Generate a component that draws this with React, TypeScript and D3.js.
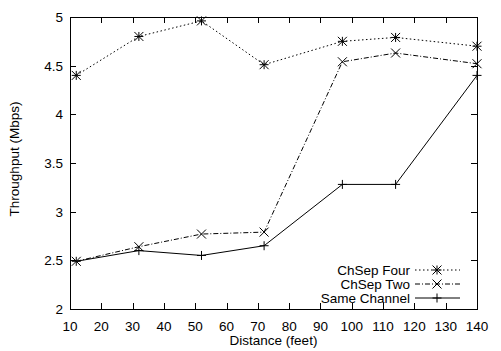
import React, {useEffect, useRef} from 'react';
import * as d3 from 'd3';

const distances = [12, 32, 52, 72, 97, 114, 140];
const chSepFour = [4.4, 4.8, 4.96, 4.51, 4.75, 4.79, 4.7];
const chSepTwo = [2.49, 2.64, 2.77, 2.79, 4.54, 4.63, 4.52];
const sameChannel = [2.49, 2.6, 2.55, 2.65, 3.28, 3.28, 4.4];
const xTicks = [10, 20, 30, 40, 50, 60, 70, 80, 90, 100, 110, 120, 130, 140];
const yTicks = [2, 2.5, 3, 3.5, 4, 4.5, 5];

const seriesList = [
  {name: 'ChSep Four', values: chSepFour, dash: '1.5,2.5', marker: 'star'},
  {name: 'ChSep Two', values: chSepTwo, dash: '5,2,1,2', marker: 'cross'},
  {name: 'Same Channel', values: sameChannel, dash: null, marker: 'plus'},
];

const App = () => {
  const ref = useRef<SVGSVGElement>(null);

  useEffect(() => {
    const width = 501, height = 351;
    const margin = {top: 17, right: 24, bottom: 42, left: 70};
    const svg = d3.select(ref.current);
    svg.selectAll('*').remove();

    const x = d3.scaleLinear().domain([10, 140]).range([margin.left, width - margin.right]);
    const y = d3.scaleLinear().domain([2, 5]).range([height - margin.bottom, margin.top]);
    const font = '"Liberation Sans", Arial, sans-serif';
    const tick = 6;

    svg.append('rect').attr('width', width).attr('height', height).attr('fill', '#fff');

    const g = svg.append('g').attr('stroke', '#000').attr('stroke-width', 1).attr('shape-rendering', 'crispEdges');
    // ticks on all four sides, pointing in
    xTicks.forEach(t => {
      const px = Math.round(x(t)) + 0.5;
      g.append('line').attr('x1', px).attr('x2', px).attr('y1', y(2)).attr('y2', y(2) - tick);
      g.append('line').attr('x1', px).attr('x2', px).attr('y1', y(5)).attr('y2', y(5) + tick);
    });
    yTicks.forEach(t => {
      const py = Math.round(y(t)) + 0.5;
      g.append('line').attr('y1', py).attr('y2', py).attr('x1', x(10)).attr('x2', x(10) + tick);
      g.append('line').attr('y1', py).attr('y2', py).attr('x1', x(140)).attr('x2', x(140) - tick);
    });
    g.append('rect')
      .attr('x', Math.round(x(10)) + 0.5).attr('y', Math.round(y(5)) + 0.5)
      .attr('width', Math.round(x(140)) - Math.round(x(10)))
      .attr('height', Math.round(y(2)) - Math.round(y(5)))
      .attr('fill', 'none');

    const txt = svg.append('g').attr('font-family', font).attr('font-size', 13.5).attr('fill', '#000');
    xTicks.forEach(t => {
      txt.append('text').attr('x', x(t)).attr('y', y(2) + 22).attr('text-anchor', 'middle').text(t);
    });
    yTicks.forEach(t => {
      txt.append('text').attr('x', x(10) - 7).attr('y', y(t) + 5).attr('text-anchor', 'end').text(t);
    });
    txt.append('text').attr('x', (x(10) + x(140)) / 2).attr('y', 345).attr('text-anchor', 'middle').text('Distance (feet)');
    txt.append('text').attr('transform', `translate(19,159) rotate(-90)`)
      .attr('text-anchor', 'middle').text('Throughput (Mbps)');

    const drawMarker = (sel, kind, cx, cy) => {
      const s = 4.5;
      const m = sel.append('g').attr('stroke', '#000').attr('stroke-width', 1).attr('fill', 'none');
      if (kind === 'plus' || kind === 'star') {
        m.append('line').attr('x1', cx - s).attr('x2', cx + s).attr('y1', cy).attr('y2', cy);
        m.append('line').attr('x1', cx).attr('x2', cx).attr('y1', cy - s).attr('y2', cy + s);
      }
      if (kind === 'cross' || kind === 'star') {
        m.append('line').attr('x1', cx - s).attr('x2', cx + s).attr('y1', cy - s).attr('y2', cy + s);
        m.append('line').attr('x1', cx - s).attr('x2', cx + s).attr('y1', cy + s).attr('y2', cy - s);
      }
    };

    const line = d3.line<number>().x((d, i) => x(distances[i])).y(d => y(d));

    seriesList.forEach(s => {
      svg.append('path').datum(s.values)
        .attr('fill', 'none').attr('stroke', '#000').attr('stroke-width', 1)
        .attr('stroke-dasharray', s.dash)
        .attr('d', line);
      s.values.forEach((v, i) => drawMarker(svg, s.marker, x(distances[i]), y(v)));
    });

    // legend
    const legendY = [270, 284, 298];
    seriesList.forEach((s, i) => {
      const ly = legendY[i];
      txt.append('text').attr('x', 410).attr('y', ly + 5).attr('text-anchor', 'end').text(s.name);
      svg.append('line').attr('x1', 415).attr('x2', 460).attr('y1', ly).attr('y2', ly)
        .attr('stroke', '#000').attr('stroke-width', 1).attr('stroke-dasharray', s.dash);
      drawMarker(svg, s.marker, 437, ly);
    });
  }, []);

  return (
    <svg ref={ref} width={501} height={351}
      style={{position: 'absolute', left: 0, top: 0, display: 'block'}} />
  );
};

export default App;
